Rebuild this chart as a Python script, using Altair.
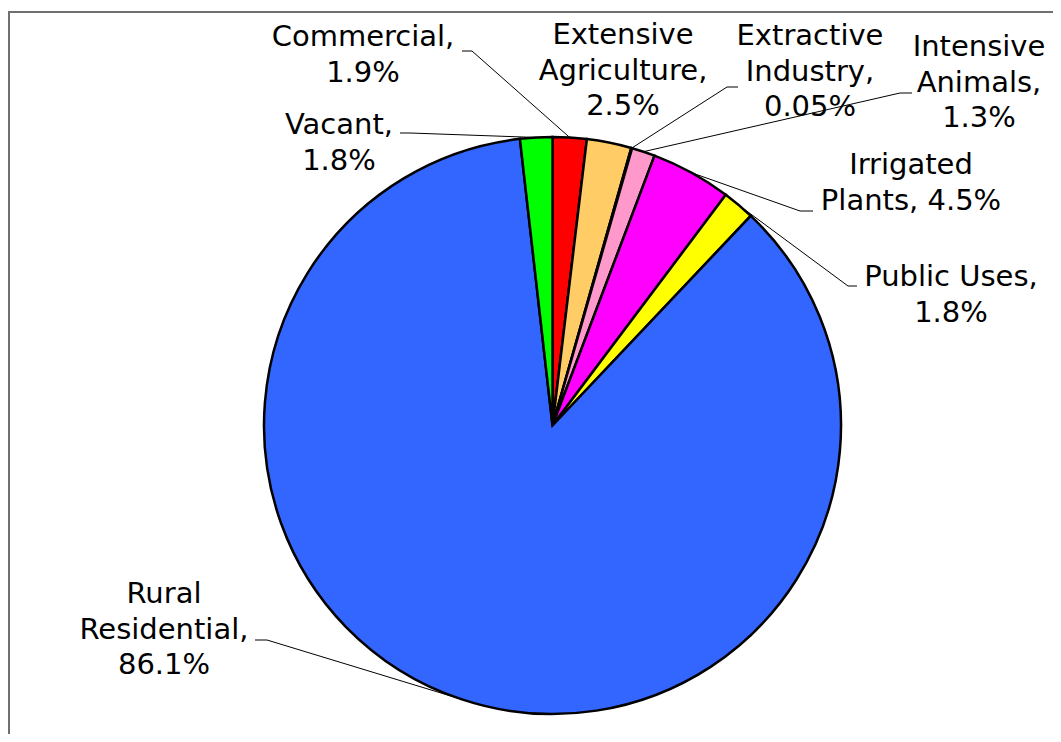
import math
import altair as alt
import pandas as pd

# ---- data ----
categories = ["Commercial", "Extensive Agriculture", "Extractive Industry", "Intensive Animals",
              "Irrigated Plants", "Public Uses", "Rural Residential", "Vacant"]
shares = [1.9, 2.5, 0.05, 1.3, 4.5, 1.8, 86.1, 1.8]
label_names = ["Commercial,", "Extensive\nAgriculture,", "Extractive\nIndustry,", "Intensive\nAnimals,",
               "Irrigated\nPlants,", "Public Uses,", "Rural\nResidential,", "Vacant,"]
label_seps = ["\n", "\n", "\n", "\n", " ", "\n", "\n", "\n"]

# ---- styles ----
colors = ["#FF0000", "#FFCC66", "#996633", "#FF99CC", "#FF00FF", "#FFFF00", "#3366FF", "#00FF00"]

# ---- layout (page pixels) ----
W, H = 1045, 726
CX, CY, R = 552.5, 425.5, 288.5
label_x = [363, 623, 810, 979, 911, 951, 164, 339]
label_y = [37, 35, 36, 47, 165, 277, 594, 125]   # centre of first text line
# leader stubs: (x start, x elbow, y) ; None = no leader
leader_stub = [(462, 472, 51), None, (738, 727, 87), (912, 900, 93),
               (813, 800, 211), (857, 848, 286), (255, 267, 640), (400, 410, 133)]

total = sum(shares)
rows, lrows, lines = [], [], []
cum = 0.0
for i, (c, v) in enumerate(zip(categories, shares)):
    mid = (cum + v / 2) / total * 2 * math.pi
    cum += v
    rows.append({"idx": i, "category": c, "share": v})
    lrows.append({"category": c, "lx": label_x[i], "ly": label_y[i],
                  "label": f"{label_names[i]}{label_seps[i]}{v:g}%"})
    st = leader_stub[i]
    if st is not None:
        ex = CX + R * math.sin(mid)
        ey = CY - R * math.cos(mid)
        pts = [(st[0], st[2]), (st[1], st[2]), (ex, ey)]
        for k, (px, py) in enumerate(pts):
            lines.append({"category": c, "k": k, "px": px, "py": py})

df = pd.DataFrame(rows)
ldf = pd.DataFrame(lrows)
lndf = pd.DataFrame(lines)

xs = alt.Scale(domain=[8, 8 + W], nice=False, zero=False)
ys = alt.Scale(domain=[8, 8 + H], nice=False, zero=False, reverse=True)

pie = alt.Chart(df).mark_arc(outerRadius=R, stroke="black", strokeWidth=2.5).encode(
    theta=alt.Theta("share:Q", stack=True),
    color=alt.Color("category:N", scale=alt.Scale(domain=categories, range=colors), legend=None),
    order=alt.Order("idx:Q"),
    x=alt.XDatum(CX, type="quantitative", scale=xs, axis=None),
    y=alt.YDatum(CY, type="quantitative", scale=ys, axis=None),
)

leaders = alt.Chart(lndf).mark_line(color="black", strokeWidth=1).encode(
    x=alt.X("px:Q", scale=xs, axis=None),
    y=alt.Y("py:Q", scale=ys, axis=None),
    detail="category:N",
    order="k:Q",
)

labels = alt.Chart(ldf).mark_text(
    font="DejaVu Sans", fontSize=29, lineBreak="\n", lineHeight=35.5,
    align="center", baseline="middle", color="black"
).encode(
    x=alt.X("lx:Q", scale=xs, axis=None),
    y=alt.Y("ly:Q", scale=ys, axis=None),
    text="label:N",
)

frame_left = alt.Chart(df).mark_rule(color="#707070", strokeWidth=2).encode(
    x=alt.value(1), y=alt.value(4), y2=alt.value(H)
)
frame_top = alt.Chart(df).mark_rule(color="#707070", strokeWidth=2).encode(
    x=alt.value(0), x2=alt.value(W), y=alt.value(4)
)

chart = alt.layer(frame_left, frame_top, pie, leaders, labels).properties(
    width=W, height=H, padding=0, autosize=alt.AutoSizeParams(type="none"),
    background="white"
).configure_view(stroke=None)

chart.save("out.html", embed_options={"renderer": "svg", "actions": False})
